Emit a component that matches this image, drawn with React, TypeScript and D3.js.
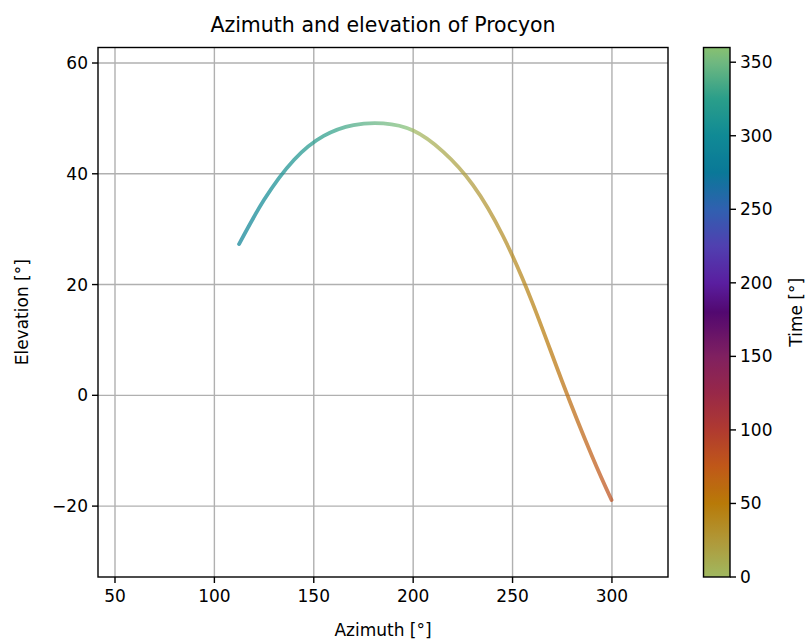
import React from 'react';
import * as d3 from 'd3';

// Data
const azimuth = [112.4, 125, 140, 155, 170, 185, 200, 215, 230, 245, 260, 275, 290, 299.8];
const elevation = [27.3, 35.3, 42.5, 46.85, 48.8, 49.1, 47.8, 44.0, 38.0, 28.9, 16.7, 2.45, -11.0, -18.9];
const timeDeg = [290, 300, 312, 324, 337, 349, 0, 13, 24, 34, 45, 57, 71, 82];

const xTicks = [50, 100, 150, 200, 250, 300];
const yTicks = [-20, 0, 20, 40, 60];
const cbTicks = [0, 50, 100, 150, 200, 250, 300, 350];

const cmapPos = [0, 25, 50, 75, 100, 125, 150, 180, 200, 225, 250, 275, 300, 325, 350, 360];
const cmapCol = ['#a0b860', '#b09838', '#b87a08', '#c05818', '#b03a30', '#982848', '#802060', '#520870', '#5a1ea0', '#5040b0', '#3060b0', '#0a7898', '#108a95', '#2a9e8a', '#70b880', '#88c070'];

const W = 812, H = 642;
const left = 98, right = 668, top = 47.5, bottom = 577;
const cbL = 703.5, cbR = 730;
const FONT = 'DejaVu Sans, sans-serif';

export default function App() {
  const x = d3.scaleLinear().domain([41.45, 328.2]).range([left, right]);
  const y = d3.scaleLinear().domain([-32.8, 62.8]).range([bottom, top]);
  const cmap = d3.scaleLinear<string>().domain(cmapPos).range(cmapCol).interpolate(d3.interpolateRgb);
  const cb = d3.scaleLinear().domain([0, 360]).range([bottom, top]);

  // unwrap times for smooth colour interpolation across 360 -> 0
  const unwrapped: number[] = [];
  timeDeg.forEach((t, i) => {
    if (i === 0) unwrapped.push(t);
    else {
      let v = t;
      while (v < unwrapped[i - 1] - 180) v += 360;
      unwrapped.push(v);
    }
  });
  const col = (t: number) => cmap(((t % 360) + 360) % 360);

  const idx = d3.range(azimuth.length);
  const line = d3.line<number>().x(i => x(azimuth[i])).y(i => y(elevation[i])).curve(d3.curveNatural);
  const pathD = line(idx) || '';

  const x0 = x(azimuth[0]), x1 = x(azimuth[azimuth.length - 1]);
  const gStops: { off: number; c: string }[] = [];
  for (let i = 0; i < azimuth.length - 1; i++) {
    const steps = 6;
    for (let k = 0; k < steps; k++) {
      const f = k / steps;
      const px = x(azimuth[i]) + (x(azimuth[i + 1]) - x(azimuth[i])) * f;
      gStops.push({ off: (px - x0) / (x1 - x0), c: col(unwrapped[i] + (unwrapped[i + 1] - unwrapped[i]) * f) });
    }
  }
  gStops.push({ off: 1, c: col(unwrapped[unwrapped.length - 1]) });

  const cbStops = d3.range(0, 361, 5).map(v => ({ off: v / 360, c: cmap(v) }));

  return (
    <svg width={W} height={H} style={{ position: 'absolute', left: 0, top: 0, background: '#fff' }} fontFamily={FONT}>
      <defs>
        <linearGradient id="curvegrad" gradientUnits="userSpaceOnUse" x1={x0} y1={0} x2={x1} y2={0}>
          {gStops.map((st, k) => <stop key={k} offset={st.off} stopColor={st.c} />)}
        </linearGradient>
        <linearGradient id="cbgrad" x1="0" y1="1" x2="0" y2="0">
          {cbStops.map((st, k) => <stop key={k} offset={st.off} stopColor={st.c} />)}
        </linearGradient>
        <clipPath id="plotclip"><rect x={left} y={top} width={right - left} height={bottom - top} /></clipPath>
      </defs>

      {/* grid */}
      {xTicks.map(t => <line key={'gx' + t} x1={x(t)} x2={x(t)} y1={top} y2={bottom} stroke="#b0b0b0" strokeWidth={1.4} />)}
      {yTicks.map(t => <line key={'gy' + t} y1={y(t)} y2={y(t)} x1={left} x2={right} stroke="#b0b0b0" strokeWidth={1.4} />)}

      {/* curve */}
      <g opacity={0.72} clipPath="url(#plotclip)">
        <path d={pathD} fill="none" stroke="url(#curvegrad)" strokeWidth={3.8} strokeLinecap="round" strokeLinejoin="round" />
      </g>

      {/* frame */}
      <rect x={left} y={top} width={right - left} height={bottom - top} fill="none" stroke="#000" strokeWidth={1.4} />

      {/* x ticks */}
      {xTicks.map(t => (
        <g key={'xt' + t}>
          <line x1={x(t)} x2={x(t)} y1={bottom} y2={bottom + 6} stroke="#000" strokeWidth={1.4} />
          <text x={x(t)} y={bottom + 25} textAnchor="middle" fontSize={17} fill="#000">{t}</text>
        </g>
      ))}
      {/* y ticks */}
      {yTicks.map(t => (
        <g key={'yt' + t}>
          <line x1={left - 6} x2={left} y1={y(t)} y2={y(t)} stroke="#000" strokeWidth={1.4} />
          <text x={left - 10} y={y(t) + 6} textAnchor="end" fontSize={17} fill="#000">{t < 0 ? '\u2212' + Math.abs(t) : t}</text>
        </g>
      ))}

      <text x={(left + right) / 2} y={636} textAnchor="middle" fontSize={17} fill="#000">Azimuth [°]</text>
      <text transform={`translate(28,${(top + bottom) / 2}) rotate(-90)`} textAnchor="middle" fontSize={17} fill="#000">Elevation [°]</text>
      <text x={(left + right) / 2} y={32} textAnchor="middle" fontSize={20.5} fill="#000">Azimuth and elevation of Procyon</text>

      {/* colorbar */}
      <rect x={cbL} y={top} width={cbR - cbL} height={bottom - top} fill="url(#cbgrad)" />
      <rect x={cbL} y={top} width={cbR - cbL} height={bottom - top} fill="none" stroke="#000" strokeWidth={1.4} />
      {cbTicks.map(t => (
        <g key={'cb' + t}>
          <line x1={cbR} x2={cbR + 6} y1={cb(t)} y2={cb(t)} stroke="#000" strokeWidth={1.4} />
          <text x={cbR + 10} y={cb(t) + 6} fontSize={17} fill="#000">{t}</text>
        </g>
      ))}
      <text transform={`translate(802,${(top + bottom) / 2}) rotate(-90)`} textAnchor="middle" fontSize={17} fill="#000">Time [°]</text>
    </svg>
  );
}
